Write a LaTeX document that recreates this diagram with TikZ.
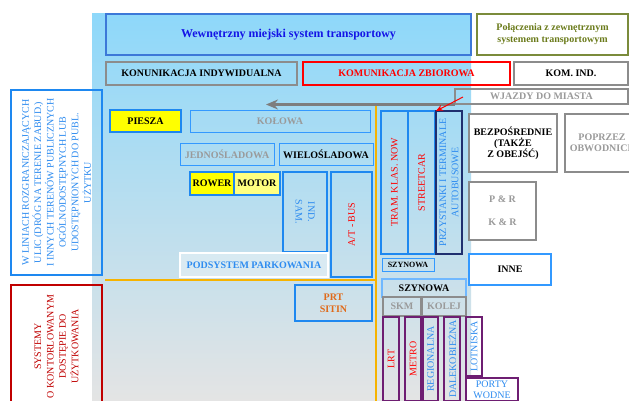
\documentclass[tikz,border=0pt]{standalone}
\usepackage{fontspec}
\setmainfont{Liberation Serif}
\usetikzlibrary{arrows.meta}
\definecolor{bgtop}{HTML}{8ED8FA}
\definecolor{bgmid}{HTML}{B6DEF1}
\definecolor{bgbot}{HTML}{E4E4E4}
\definecolor{ctitle}{HTML}{3C78D8}
\definecolor{ctitletxt}{HTML}{1414E6}
\definecolor{colive}{HTML}{7B8B3B}
\definecolor{colivetxt}{HTML}{6B7B1B}
\definecolor{cgray}{HTML}{8C8C8C}
\definecolor{cgraytxt}{HTML}{9A9A9A}
\definecolor{cred}{HTML}{FF0000}
\definecolor{cdred}{HTML}{C00000}
\definecolor{cblue}{HTML}{1E88F0}
\definecolor{clblue}{HTML}{3399FF}
\definecolor{cbtxt}{HTML}{2E8CF0}
\definecolor{cnavy}{HTML}{1F2F6F}
\definecolor{cpurple}{HTML}{6E1E72}
\definecolor{corange}{HTML}{F6B300}
\definecolor{cprt}{HTML}{E06A1A}
\definecolor{cyel}{HTML}{FFFF00}
\definecolor{cyel2}{HTML}{FFFF80}
\newcommand\xbox[8]{%
  \node[#1, minimum width={#5-#3}, minimum height={#6-#4}] (#2) at ({(#3+#5)/2},{(#4+#6)/2}) {};
  \node[#7] (#2t) at (#2.center) {#8};}
\begin{document}
\begin{tikzpicture}[x=1pt, y=-1pt,
  bx/.style={draw, inner sep=0pt, outer sep=0pt},
  gbox/.style={bx, draw=cgray, line width=2pt},
  bbox/.style={bx, draw=cblue, line width=2pt},
  tbox/.style={bx, draw=clblue, line width=0.9pt},
  pbox/.style={bx, draw=cpurple, line width=2pt},
  lb/.style={font=\bfseries\fontsize{10}{12}\selectfont, align=center, inner sep=0pt},
  vt/.style={font=\fontsize{10}{12.4}\selectfont, align=center, inner sep=0pt, rotate=90},
  vtr/.style={font=\fontsize{10}{12.4}\selectfont, align=center, inner sep=0pt, rotate=-90}]
\useasboundingbox (0,0) rectangle (629,401);
\clip (0,0) rectangle (629,401);
\fill[white] (0,0) rectangle (629,401);
% background
\shade[top color=bgtop, middle color=bgmid, bottom color=bgbot] (92,14) rectangle (471,401);
% orange lines
\draw[corange, line width=2pt] (376,105) -- (376,401);
\draw[corange, line width=2pt] (105,280) -- (376,280);
% header
\xbox{bx, draw=ctitle, line width=2pt}{title}{106}{14}{471}{55}{lb, font=\bfseries\fontsize{12}{14}\selectfont, text=ctitletxt}{Wewnętrzny miejski system transportowy}
\xbox{bx, draw=colive, line width=1.5pt}{pol}{477}{14}{628}{55}{lb, text=colivetxt}{Połączenia z zewnętrznym\\systemem transportowym}
\xbox{gbox}{ki}{106}{62}{297}{85}{lb}{KONUNIKACJA INDYWIDUALNA}
\xbox{bx, draw=cred, line width=2pt}{kz}{303}{62}{510}{85}{lb, text=cred}{KOMUNIKACJA ZBIOROWA}
\xbox{gbox}{kom}{514}{62}{628}{85}{lb}{KOM. IND.}
\xbox{gbox}{wj}{455}{89}{628}{104.5}{lb, text=cgraytxt}{WJAZDY DO MIASTA}
% individual
\xbox{bbox, fill=cyel}{piesza}{110}{110}{181}{132}{lb}{PIESZA}
\xbox{tbox}{kolowa}{190}{110}{370}{132}{lb, text=cgraytxt}{KOŁOWA}
\xbox{tbox}{jedno}{180}{143}{274}{165}{lb, text=cgraytxt}{JEDNOŚLADOWA}
\xbox{tbox}{wielo}{279}{143}{373}{165}{lb}{WIELOŚLADOWA}
\xbox{bbox, fill=cyel}{rower}{190}{172}{234}{195}{lb}{ROWER}
\xbox{bbox, fill=cyel2}{motor}{234}{172}{280}{195}{lb}{MOTOR}
\xbox{bbox}{sam}{283}{172}{327}{252}{vtr, text=cbtxt}{IND.\\SAM.}
\xbox{bbox}{atbus}{331}{172}{372}{277}{vt, text=cred}{A/T - BUS}
\xbox{bx, draw=white, line width=2pt, fill=white, fill opacity=0.35, text opacity=1}{pods}{180}{253}{328}{277}{lb, text=cbtxt}{PODSYSTEM PARKOWANIA}
\xbox{bbox}{prt}{295}{285}{372}{321}{lb, text=cprt}{PRT\\SITIN}
% collective
\xbox{bbox}{tram}{381}{111}{408}{254}{vt, text=cred}{TRAM. KLAS. NOW}
\xbox{bbox}{street}{408}{111}{435}{254}{vt, text=cred}{STREETCAR}
\xbox{bx, draw=cnavy, line width=2pt}{przy}{436}{111}{462}{254}{vt, text=cbtxt}{PRZYSTANKI I TERMINALE\\AUTOBUSOWE}
\xbox{tbox}{szs}{382}{258}{434}{271}{lb, font=\bfseries\fontsize{8}{10}\selectfont}{SZYNOWA}
\xbox{bx, draw=clblue!70, line width=1.2pt}{szl}{382}{279}{466}{297}{lb}{SZYNOWA}
\xbox{gbox}{skm}{383}{297}{421}{316}{lb, text=cgraytxt}{SKM}
\xbox{gbox}{kolej}{422}{297}{466}{316}{lb, text=cgraytxt}{KOLEJ}
\xbox{pbox}{lrt}{383}{317}{399}{401}{vt, text=cred}{LRT}
\xbox{pbox}{metro}{405}{317}{421}{401}{vt, text=cred}{METRO}
\xbox{pbox}{reg}{423}{317}{438}{401}{vt, text=cbtxt}{REGIONALNA}
\xbox{pbox}{dal}{444}{317}{460}{401}{vt, text=cbtxt}{DALEKOBIEŻNA}
\xbox{pbox}{lot}{466}{317}{482}{376}{vt, text=cbtxt}{LOTNISKA}
\xbox{pbox, fill=white}{porty}{466}{378}{518}{401}{vt, rotate=-90, font=\fontsize{10}{11}\selectfont, text=cbtxt}{PORTY\\WODNE}
% right side
\xbox{gbox, fill=white}{bez}{469}{114}{557}{172}{lb, font=\bfseries\fontsize{10}{11}\selectfont}{BEZPOŚREDNIE\\(TAKŻE\\Z OBEJŚĆ)}
\xbox{gbox, fill=white}{pop}{565}{114}{639}{172}{lb, font=\bfseries\fontsize{10}{11}\selectfont, text=cgraytxt}{POPRZEZ\\OBWODNICE}
\xbox{gbox, fill=white}{pr}{469}{182}{536}{240}{lb, font=\bfseries\fontsize{10}{23}\selectfont, text=cgraytxt}{P \& R\\K \& R}
\xbox{bx, draw=clblue, line width=1.5pt, fill=white}{inne}{469}{254}{551}{285}{lb}{INNE}
% left side
\xbox{bbox}{lblue}{11}{90}{102}{275}{vt, text=cbtxt}{W LINIACH ROZGRANICZAJĄCYCH\\ULIC (DRÓG NA TERENIE ZABUD.)\\I INNYCH TERENÓW PUBLICZNYCH\\OGÓLNODOSTĘPNYCH LUB\\UDOSTĘPNIONYCH DO PUBL.\\UŻYTKU}
\xbox{bx, draw=cdred, line width=2pt}{lred}{11}{285}{102}{408}{vt, text=cdred}{SYSTEMY\\O KONTORLOWANYM\\DOSTĘPIE DO\\UŻYTKOWANIA}
% arrows
\coordinate (arrend) at (266,104.5);
\draw[cgray!90!black, line width=2.5pt, -{Stealth[length=12pt, width=10pt, inset=4pt]}] (wj.south west) -- (arrend);
\coordinate (rstart) at (463,97);
\draw[cred, line width=1pt, -{Stealth[length=7pt, width=6pt]}] (rstart) -- (przy.north west);
\end{tikzpicture}
\end{document}
